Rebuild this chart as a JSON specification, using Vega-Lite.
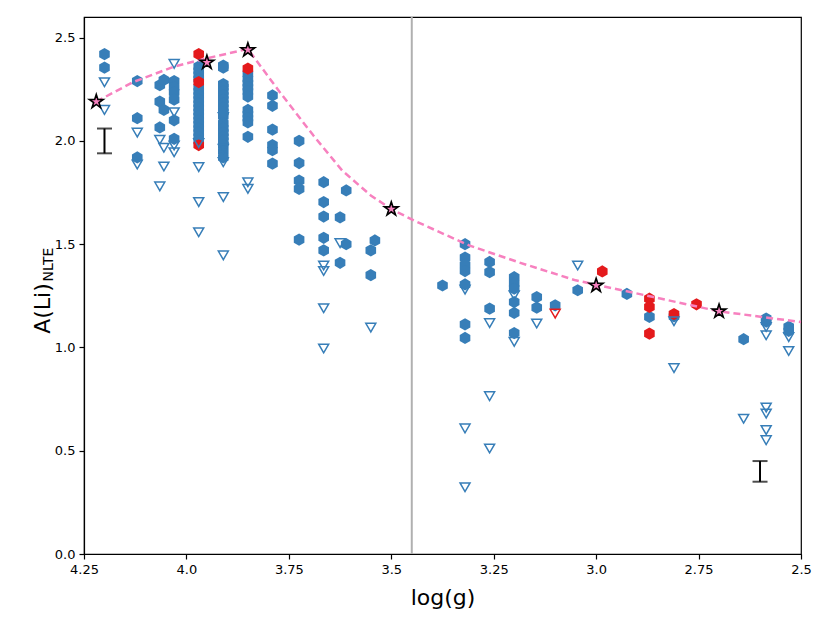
{
  "$schema": "https://vega.github.io/schema/vega-lite/v6.json",
  "width": 717,
  "height": 537,
  "autosize": "none",
  "padding": {"left": 84, "top": 17, "right": 29, "bottom": 76},
  "background": "white",
  "config": {
    "view": {"stroke": "black", "strokeWidth": 1.2},
    "font": "DejaVu Sans",
    "axis": {
      "grid": false,
      "domainColor": "black",
      "domainWidth": 1.2,
      "tickColor": "black",
      "tickWidth": 1.2,
      "tickSize": 5,
      "labelFont": "DejaVu Sans",
      "labelFontSize": 13,
      "labelColor": "black",
      "titleFont": "DejaVu Sans",
      "titleFontWeight": "normal",
      "titleColor": "black"
    }
  },
  "datasets": {
    "pts": [
      {"g": 4.20, "a": 2.42, "kind": "det", "col": "blue"},
      {"g": 4.20, "a": 2.355, "kind": "det", "col": "blue"},
      {"g": 4.12, "a": 2.29, "kind": "det", "col": "blue"},
      {"g": 4.12, "a": 2.11, "kind": "det", "col": "blue"},
      {"g": 4.12, "a": 1.92, "kind": "det", "col": "blue"},
      {"g": 4.065, "a": 2.27, "kind": "det", "col": "blue"},
      {"g": 4.065, "a": 2.19, "kind": "det", "col": "blue"},
      {"g": 4.065, "a": 2.065, "kind": "det", "col": "blue"},
      {"g": 4.055, "a": 2.295, "kind": "det", "col": "blue"},
      {"g": 4.055, "a": 2.15, "kind": "det", "col": "blue"},
      {"g": 4.03, "a": 2.29, "kind": "det", "col": "blue"},
      {"g": 4.03, "a": 2.26, "kind": "det", "col": "blue"},
      {"g": 4.03, "a": 2.235, "kind": "det", "col": "blue"},
      {"g": 4.03, "a": 2.20, "kind": "det", "col": "blue"},
      {"g": 4.03, "a": 2.10, "kind": "det", "col": "blue"},
      {"g": 4.03, "a": 2.01, "kind": "det", "col": "blue"},
      {"g": 3.97, "a": 2.36, "kind": "det", "col": "blue"},
      {"g": 3.97, "a": 2.34, "kind": "det", "col": "blue"},
      {"g": 3.97, "a": 2.32, "kind": "det", "col": "blue"},
      {"g": 3.97, "a": 2.30, "kind": "det", "col": "blue"},
      {"g": 3.97, "a": 2.26, "kind": "det", "col": "blue"},
      {"g": 3.97, "a": 2.24, "kind": "det", "col": "blue"},
      {"g": 3.97, "a": 2.22, "kind": "det", "col": "blue"},
      {"g": 3.97, "a": 2.20, "kind": "det", "col": "blue"},
      {"g": 3.97, "a": 2.18, "kind": "det", "col": "blue"},
      {"g": 3.97, "a": 2.16, "kind": "det", "col": "blue"},
      {"g": 3.97, "a": 2.14, "kind": "det", "col": "blue"},
      {"g": 3.97, "a": 2.12, "kind": "det", "col": "blue"},
      {"g": 3.97, "a": 2.10, "kind": "det", "col": "blue"},
      {"g": 3.97, "a": 2.08, "kind": "det", "col": "blue"},
      {"g": 3.97, "a": 2.06, "kind": "det", "col": "blue"},
      {"g": 3.97, "a": 2.04, "kind": "det", "col": "blue"},
      {"g": 3.97, "a": 2.02, "kind": "det", "col": "blue"},
      {"g": 3.97, "a": 2.00, "kind": "det", "col": "blue"},
      {"g": 3.91, "a": 2.365, "kind": "det", "col": "blue"},
      {"g": 3.91, "a": 2.355, "kind": "det", "col": "blue"},
      {"g": 3.91, "a": 2.275, "kind": "det", "col": "blue"},
      {"g": 3.91, "a": 2.26, "kind": "det", "col": "blue"},
      {"g": 3.91, "a": 2.24, "kind": "det", "col": "blue"},
      {"g": 3.91, "a": 2.22, "kind": "det", "col": "blue"},
      {"g": 3.91, "a": 2.20, "kind": "det", "col": "blue"},
      {"g": 3.91, "a": 2.18, "kind": "det", "col": "blue"},
      {"g": 3.91, "a": 2.16, "kind": "det", "col": "blue"},
      {"g": 3.91, "a": 2.14, "kind": "det", "col": "blue"},
      {"g": 3.91, "a": 2.12, "kind": "det", "col": "blue"},
      {"g": 3.91, "a": 2.085, "kind": "det", "col": "blue"},
      {"g": 3.91, "a": 2.06, "kind": "det", "col": "blue"},
      {"g": 3.91, "a": 2.04, "kind": "det", "col": "blue"},
      {"g": 3.91, "a": 2.02, "kind": "det", "col": "blue"},
      {"g": 3.91, "a": 2.00, "kind": "det", "col": "blue"},
      {"g": 3.91, "a": 1.98, "kind": "det", "col": "blue"},
      {"g": 3.91, "a": 1.95, "kind": "det", "col": "blue"},
      {"g": 3.91, "a": 1.92, "kind": "det", "col": "blue"},
      {"g": 3.85, "a": 2.325, "kind": "det", "col": "blue"},
      {"g": 3.85, "a": 2.30, "kind": "det", "col": "blue"},
      {"g": 3.85, "a": 2.28, "kind": "det", "col": "blue"},
      {"g": 3.85, "a": 2.26, "kind": "det", "col": "blue"},
      {"g": 3.85, "a": 2.24, "kind": "det", "col": "blue"},
      {"g": 3.85, "a": 2.215, "kind": "det", "col": "blue"},
      {"g": 3.85, "a": 2.15, "kind": "det", "col": "blue"},
      {"g": 3.85, "a": 2.13, "kind": "det", "col": "blue"},
      {"g": 3.85, "a": 2.11, "kind": "det", "col": "blue"},
      {"g": 3.85, "a": 2.09, "kind": "det", "col": "blue"},
      {"g": 3.85, "a": 2.02, "kind": "det", "col": "blue"},
      {"g": 3.79, "a": 2.22, "kind": "det", "col": "blue"},
      {"g": 3.79, "a": 2.17, "kind": "det", "col": "blue"},
      {"g": 3.79, "a": 2.055, "kind": "det", "col": "blue"},
      {"g": 3.79, "a": 1.98, "kind": "det", "col": "blue"},
      {"g": 3.79, "a": 1.955, "kind": "det", "col": "blue"},
      {"g": 3.79, "a": 1.89, "kind": "det", "col": "blue"},
      {"g": 3.725, "a": 2.00, "kind": "det", "col": "blue"},
      {"g": 3.725, "a": 1.893, "kind": "det", "col": "blue"},
      {"g": 3.725, "a": 1.808, "kind": "det", "col": "blue"},
      {"g": 3.725, "a": 1.768, "kind": "det", "col": "blue"},
      {"g": 3.725, "a": 1.522, "kind": "det", "col": "blue"},
      {"g": 3.665, "a": 1.80, "kind": "det", "col": "blue"},
      {"g": 3.665, "a": 1.704, "kind": "det", "col": "blue"},
      {"g": 3.665, "a": 1.634, "kind": "det", "col": "blue"},
      {"g": 3.665, "a": 1.531, "kind": "det", "col": "blue"},
      {"g": 3.665, "a": 1.47, "kind": "det", "col": "blue"},
      {"g": 3.625, "a": 1.63, "kind": "det", "col": "blue"},
      {"g": 3.625, "a": 1.41, "kind": "det", "col": "blue"},
      {"g": 3.61, "a": 1.76, "kind": "det", "col": "blue"},
      {"g": 3.61, "a": 1.50, "kind": "det", "col": "blue"},
      {"g": 3.54, "a": 1.518, "kind": "det", "col": "blue"},
      {"g": 3.55, "a": 1.47, "kind": "det", "col": "blue"},
      {"g": 3.55, "a": 1.35, "kind": "det", "col": "blue"},
      {"g": 3.375, "a": 1.30, "kind": "det", "col": "blue"},
      {"g": 3.32, "a": 1.50, "kind": "det", "col": "blue"},
      {"g": 3.32, "a": 1.435, "kind": "det", "col": "blue"},
      {"g": 3.32, "a": 1.40, "kind": "det", "col": "blue"},
      {"g": 3.32, "a": 1.37, "kind": "det", "col": "blue"},
      {"g": 3.32, "a": 1.305, "kind": "det", "col": "blue"},
      {"g": 3.32, "a": 1.112, "kind": "det", "col": "blue"},
      {"g": 3.32, "a": 1.046, "kind": "det", "col": "blue"},
      {"g": 3.26, "a": 1.414, "kind": "det", "col": "blue"},
      {"g": 3.26, "a": 1.365, "kind": "det", "col": "blue"},
      {"g": 3.26, "a": 1.188, "kind": "det", "col": "blue"},
      {"g": 3.20, "a": 1.34, "kind": "det", "col": "blue"},
      {"g": 3.20, "a": 1.31, "kind": "det", "col": "blue"},
      {"g": 3.20, "a": 1.285, "kind": "det", "col": "blue"},
      {"g": 3.20, "a": 1.22, "kind": "det", "col": "blue"},
      {"g": 3.20, "a": 1.167, "kind": "det", "col": "blue"},
      {"g": 3.20, "a": 1.07, "kind": "det", "col": "blue"},
      {"g": 3.145, "a": 1.244, "kind": "det", "col": "blue"},
      {"g": 3.145, "a": 1.193, "kind": "det", "col": "blue"},
      {"g": 3.10, "a": 1.204, "kind": "det", "col": "blue"},
      {"g": 3.045, "a": 1.277, "kind": "det", "col": "blue"},
      {"g": 2.925, "a": 1.259, "kind": "det", "col": "blue"},
      {"g": 2.87, "a": 1.148, "kind": "det", "col": "blue"},
      {"g": 2.81, "a": 1.15, "kind": "det", "col": "blue"},
      {"g": 2.64, "a": 1.04, "kind": "det", "col": "blue"},
      {"g": 2.585, "a": 1.14, "kind": "det", "col": "blue"},
      {"g": 2.585, "a": 1.125, "kind": "det", "col": "blue"},
      {"g": 2.53, "a": 1.10, "kind": "det", "col": "blue"},
      {"g": 2.53, "a": 1.08, "kind": "det", "col": "blue"},
      {"g": 3.97, "a": 2.42, "kind": "det", "col": "red"},
      {"g": 3.97, "a": 2.285, "kind": "det", "col": "red"},
      {"g": 3.97, "a": 1.98, "kind": "det", "col": "red"},
      {"g": 3.85, "a": 2.35, "kind": "det", "col": "red"},
      {"g": 2.985, "a": 1.368, "kind": "det", "col": "red"},
      {"g": 2.87, "a": 1.236, "kind": "det", "col": "red"},
      {"g": 2.87, "a": 1.196, "kind": "det", "col": "red"},
      {"g": 2.87, "a": 1.067, "kind": "det", "col": "red"},
      {"g": 2.81, "a": 1.162, "kind": "det", "col": "red"},
      {"g": 2.755, "a": 1.209, "kind": "det", "col": "red"},
      {"g": 4.20, "a": 2.284, "kind": "ul", "col": "blue"},
      {"g": 4.20, "a": 2.15, "kind": "ul", "col": "blue"},
      {"g": 4.12, "a": 2.04, "kind": "ul", "col": "blue"},
      {"g": 4.12, "a": 1.886, "kind": "ul", "col": "blue"},
      {"g": 4.065, "a": 2.005, "kind": "ul", "col": "blue"},
      {"g": 4.065, "a": 1.78, "kind": "ul", "col": "blue"},
      {"g": 4.055, "a": 1.967, "kind": "ul", "col": "blue"},
      {"g": 4.055, "a": 1.876, "kind": "ul", "col": "blue"},
      {"g": 4.03, "a": 2.373, "kind": "ul", "col": "blue"},
      {"g": 4.03, "a": 2.139, "kind": "ul", "col": "blue"},
      {"g": 4.03, "a": 1.978, "kind": "ul", "col": "blue"},
      {"g": 4.03, "a": 1.945, "kind": "ul", "col": "blue"},
      {"g": 3.97, "a": 1.99, "kind": "ul", "col": "blue"},
      {"g": 3.97, "a": 1.873, "kind": "ul", "col": "blue"},
      {"g": 3.97, "a": 1.704, "kind": "ul", "col": "blue"},
      {"g": 3.97, "a": 1.558, "kind": "ul", "col": "blue"},
      {"g": 3.91, "a": 2.115, "kind": "ul", "col": "blue"},
      {"g": 3.91, "a": 1.962, "kind": "ul", "col": "blue"},
      {"g": 3.91, "a": 1.897, "kind": "ul", "col": "blue"},
      {"g": 3.91, "a": 1.728, "kind": "ul", "col": "blue"},
      {"g": 3.91, "a": 1.446, "kind": "ul", "col": "blue"},
      {"g": 3.85, "a": 1.80, "kind": "ul", "col": "blue"},
      {"g": 3.85, "a": 1.768, "kind": "ul", "col": "blue"},
      {"g": 3.665, "a": 1.397, "kind": "ul", "col": "blue"},
      {"g": 3.665, "a": 1.37, "kind": "ul", "col": "blue"},
      {"g": 3.665, "a": 1.19, "kind": "ul", "col": "blue"},
      {"g": 3.665, "a": 0.995, "kind": "ul", "col": "blue"},
      {"g": 3.625, "a": 1.505, "kind": "ul", "col": "blue"},
      {"g": 3.55, "a": 1.096, "kind": "ul", "col": "blue"},
      {"g": 3.32, "a": 1.28, "kind": "ul", "col": "blue"},
      {"g": 3.32, "a": 0.608, "kind": "ul", "col": "blue"},
      {"g": 3.32, "a": 0.323, "kind": "ul", "col": "blue"},
      {"g": 3.26, "a": 1.118, "kind": "ul", "col": "blue"},
      {"g": 3.26, "a": 0.764, "kind": "ul", "col": "blue"},
      {"g": 3.26, "a": 0.511, "kind": "ul", "col": "blue"},
      {"g": 3.20, "a": 1.252, "kind": "ul", "col": "blue"},
      {"g": 3.20, "a": 1.027, "kind": "ul", "col": "blue"},
      {"g": 3.145, "a": 1.116, "kind": "ul", "col": "blue"},
      {"g": 3.045, "a": 1.397, "kind": "ul", "col": "blue"},
      {"g": 2.81, "a": 1.127, "kind": "ul", "col": "blue"},
      {"g": 2.81, "a": 0.90, "kind": "ul", "col": "blue"},
      {"g": 2.64, "a": 0.655, "kind": "ul", "col": "blue"},
      {"g": 2.585, "a": 1.099, "kind": "ul", "col": "blue"},
      {"g": 2.585, "a": 1.059, "kind": "ul", "col": "blue"},
      {"g": 2.585, "a": 0.709, "kind": "ul", "col": "blue"},
      {"g": 2.585, "a": 0.68, "kind": "ul", "col": "blue"},
      {"g": 2.585, "a": 0.60, "kind": "ul", "col": "blue"},
      {"g": 2.585, "a": 0.551, "kind": "ul", "col": "blue"},
      {"g": 2.53, "a": 1.05, "kind": "ul", "col": "blue"},
      {"g": 2.53, "a": 0.983, "kind": "ul", "col": "blue"},
      {"g": 3.10, "a": 1.164, "kind": "ul", "col": "red"}
    ],
    "curve": [
      {"g": 4.22, "a": 2.19},
      {"g": 4.13, "a": 2.285},
      {"g": 4.03, "a": 2.36},
      {"g": 3.95, "a": 2.40},
      {"g": 3.85, "a": 2.445},
      {"g": 3.772, "a": 2.236},
      {"g": 3.69, "a": 2.026},
      {"g": 3.62, "a": 1.857},
      {"g": 3.55, "a": 1.736},
      {"g": 3.5, "a": 1.67},
      {"g": 3.445, "a": 1.615},
      {"g": 3.31, "a": 1.494},
      {"g": 3.19, "a": 1.413},
      {"g": 3.05, "a": 1.325},
      {"g": 2.86, "a": 1.244},
      {"g": 2.70, "a": 1.175},
      {"g": 2.5, "a": 1.123}
    ],
    "stars": [
      {"g": 4.22, "a": 2.19},
      {"g": 3.95, "a": 2.38},
      {"g": 3.85, "a": 2.44},
      {"g": 3.5, "a": 1.67},
      {"g": 3.0, "a": 1.30},
      {"g": 2.70, "a": 1.175}
    ],
    "err": [
      {"g": 4.2, "a": 1.94, "a2": 2.06},
      {"g": 2.6, "a": 0.35, "a2": 0.45}
    ]
  },
  "resolve": {"axis": {"y": "independent"}},
  "layer": [
    {
      "data": {"name": "pts"},
      "transform": [{"filter": "datum.kind == 'det'"}],
      "mark": {
        "type": "point",
        "shape": "M0,-1L0.866,-0.5L0.866,0.5L0,1L-0.866,0.5L-0.866,-0.5Z",
        "filled": true,
        "size": 150,
        "opacity": 1
      },
      "encoding": {
        "x": {
          "field": "g",
          "type": "quantitative",
          "scale": {"domain": [2.5, 4.25], "reverse": true, "nice": false, "zero": false},
          "axis": {
            "title": "log(g)",
            "titleFontSize": 22,
            "titleBaseline": "alphabetic",
            "titleY": 50,
            "values": [4.25, 4.0, 3.75, 3.5, 3.25, 3.0, 2.75, 2.5],
            "labelExpr": "datum.value % 0.5 == 0 ? format(datum.value, '.1f') : format(datum.value, '.2f')",
            "labelPadding": 4,
            "labelFlush": false
          }
        },
        "y": {
          "field": "a",
          "type": "quantitative",
          "scale": {"domain": [0, 2.6], "nice": false, "zero": false},
          "axis": {
            "title": "A(Li)",
            "titleFontSize": 22,
            "titleAngle": 270,
            "titleBaseline": "alphabetic",
            "titleAlign": "center",
            "titleX": -35,
            "titleY": 291,
            "values": [0, 0.5, 1.0, 1.5, 2.0, 2.5],
            "format": ".1f",
            "labelPadding": 4
          }
        },
        "color": {
          "field": "col",
          "type": "nominal",
          "scale": {"domain": ["blue", "red"], "range": ["#377eb8", "#e41a1c"]},
          "legend": null
        }
      }
    },
    {
      "data": {"name": "pts"},
      "transform": [{"filter": "datum.kind == 'ul'"}],
      "mark": {
        "type": "point",
        "shape": "triangle-down",
        "filled": false,
        "size": 100,
        "strokeWidth": 1.5,
        "opacity": 1
      },
      "encoding": {
        "x": {"field": "g", "type": "quantitative"},
        "y": {"field": "a", "type": "quantitative", "axis": null},
        "stroke": {
          "field": "col",
          "type": "nominal",
          "scale": {"domain": ["blue", "red"], "range": ["#377eb8", "#e41a1c"]},
          "legend": null
        }
      }
    },
    {
      "data": {"values": [{"g": 3.45}]},
      "mark": {"type": "rule", "color": "#b0b0b0", "strokeWidth": 2},
      "encoding": {
        "x": {"field": "g", "type": "quantitative"}
      }
    },
    {
      "data": {"name": "curve"},
      "mark": {"type": "line", "color": "#f781bf", "strokeWidth": 2.5, "strokeDash": [7, 4]},
      "encoding": {
        "x": {"field": "g", "type": "quantitative"},
        "y": {"field": "a", "type": "quantitative", "axis": null},
        "order": {"field": "g", "type": "quantitative", "sort": "descending"}
      }
    },
    {
      "data": {"name": "stars"},
      "mark": {
        "type": "point",
        "shape": "M0,-1L0.2245,-0.309L0.951,-0.309L0.363,0.118L0.588,0.809L0,0.382L-0.588,0.809L-0.363,0.118L-0.951,-0.309L-0.2245,-0.309Z",
        "filled": true,
        "fill": "#f781bf",
        "stroke": "black",
        "strokeWidth": 1.6,
        "size": 210,
        "opacity": 1
      },
      "encoding": {
        "x": {"field": "g", "type": "quantitative"},
        "y": {
          "field": "a",
          "type": "quantitative",
          "axis": {
            "orient": "right",
            "title": "NLTE",
            "titleFontSize": 14,
            "titleAngle": 270,
            "titleBaseline": "alphabetic",
            "titleAlign": "center",
            "titleX": -749,
            "titleY": 247,
            "labels": false,
            "ticks": false,
            "domain": false
          }
        }
      }
    },
    {
      "data": {"name": "err"},
      "mark": {"type": "rule", "color": "black", "strokeWidth": 2},
      "encoding": {
        "x": {"field": "g", "type": "quantitative"},
        "y": {"field": "a", "type": "quantitative", "axis": null},
        "y2": {"field": "a2"}
      }
    },
    {
      "data": {"name": "err"},
      "mark": {"type": "tick", "orient": "horizontal", "color": "black", "size": 15, "thickness": 2},
      "encoding": {
        "x": {"field": "g", "type": "quantitative"},
        "y": {"field": "a", "type": "quantitative", "axis": null}
      }
    },
    {
      "data": {"name": "err"},
      "mark": {"type": "tick", "orient": "horizontal", "color": "black", "size": 15, "thickness": 2},
      "encoding": {
        "x": {"field": "g", "type": "quantitative"},
        "y": {"field": "a2", "type": "quantitative", "axis": null}
      }
    }
  ]
}
